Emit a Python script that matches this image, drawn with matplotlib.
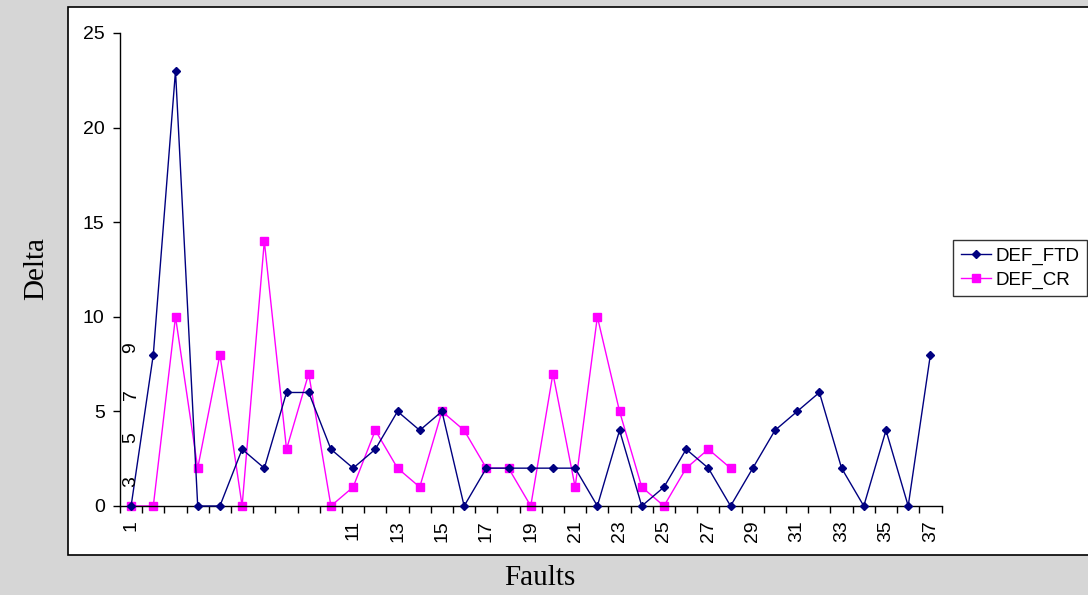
import matplotlib
matplotlib.use("Agg")
import matplotlib.pyplot as plt
from matplotlib.patches import Rectangle

# data
faults = list(range(1, 38))
def_ftd = [0, 8, 23, 0, 0, 3, 2, 6, 6, 3, 2, 3, 5, 4, 5, 0, 2, 2, 2, 2, 2, 0,
           4, 0, 1, 3, 2, 0, 2, 4, 5, 6, 2, 0, 4, 0, 8]
def_cr = [0, 0, 10, 2, 8, 0, 14, 3, 7, 0, 1, 4, 2, 1, 5, 4, 2, 2, 0, 7, 1, 10,
          5, 1, 0, 2, 3, 2]
shown_ticks = [1] + list(range(11, 38, 2))
stray_labels = ["3", "5", "7", "9"]   # Excel drew these up the y axis
y_ticks = [0, 5, 10, 15, 20, 25]

W, H = 1088, 595
fig = plt.figure(figsize=(W / 100, H / 100), dpi=100)
fig.patch.set_facecolor("#d6d6d6")

# white chart area with black border
fig.patches.append(Rectangle((68 / W, 1 - 555 / H), (W - 68) / W + 0.01, (555 - 7) / H,
                             transform=fig.transFigure, facecolor="white",
                             edgecolor="black", linewidth=1.2, zorder=-5))

ax = fig.add_axes([120 / W, 1 - 506 / H, (941.5 - 120) / W, (506 - 33) / H])
ax.set_zorder(2)
ax.set_facecolor("none")

ax.plot(faults, def_ftd, color="#000080", linewidth=1.0, marker="D",
        markersize=4.5, label="DEF_FTD", clip_on=False, zorder=3)
ax.plot(faults[:len(def_cr)], def_cr, color="#ff00ff", linewidth=1.0, marker="s",
        markersize=5.5, label="DEF_CR", clip_on=False, zorder=2)

ax.set_xlim(0.5, 37.5)
ax.set_ylim(0, 25)
for s in ("top", "right"):
    ax.spines[s].set_visible(False)
ax.spines["left"].set_linewidth(1.0)
ax.spines["bottom"].set_linewidth(1.0)

ax.set_yticks(y_ticks)
ax.tick_params(axis="y", direction="out", length=5, width=1, labelsize=14, pad=6)
ax.set_xticks([i + 0.5 for i in range(0, 38)], minor=False)
ax.set_xticklabels([])
ax.tick_params(axis="x", which="major", direction="out", length=5, width=1)
ax.set_xticks(shown_ticks, minor=True)
ax.set_xticklabels([str(t) for t in shown_ticks], minor=True, rotation=90,
                   fontsize=14)
ax.tick_params(axis="x", which="minor", length=0, pad=10)

for lab, yv in zip(stray_labels, [1.27, 3.6, 5.87, 8.36]):
    ax.text(1, yv, lab, rotation=90, fontsize=14, ha="center", va="center",
            family="Liberation Sans")

for lbl in ax.get_xticklabels(minor=True) + ax.get_yticklabels():
    lbl.set_family("Liberation Sans")

fig.text(36 / W, 1 - 268 / H, "Delta", rotation=90, fontsize=21,
         family="Liberation Serif", ha="center", va="center")
fig.text(540 / W, 1 - 578 / H, "Faults", fontsize=21,
         family="Liberation Serif", ha="center", va="center")

leg = fig.legend(loc="upper left", bbox_to_anchor=(953 / W, 1 - 240 / H),
                 frameon=True, fancybox=False, borderaxespad=0,
                 prop={"family": "Liberation Sans", "size": 13.5},
                 handlelength=1.6, handletextpad=0.25, borderpad=0.4,
                 labelspacing=0.35)
leg.get_frame().set_edgecolor("black")
leg.get_frame().set_linewidth(1.0)

fig.savefig("out.png", dpi=100, facecolor=fig.get_facecolor())
